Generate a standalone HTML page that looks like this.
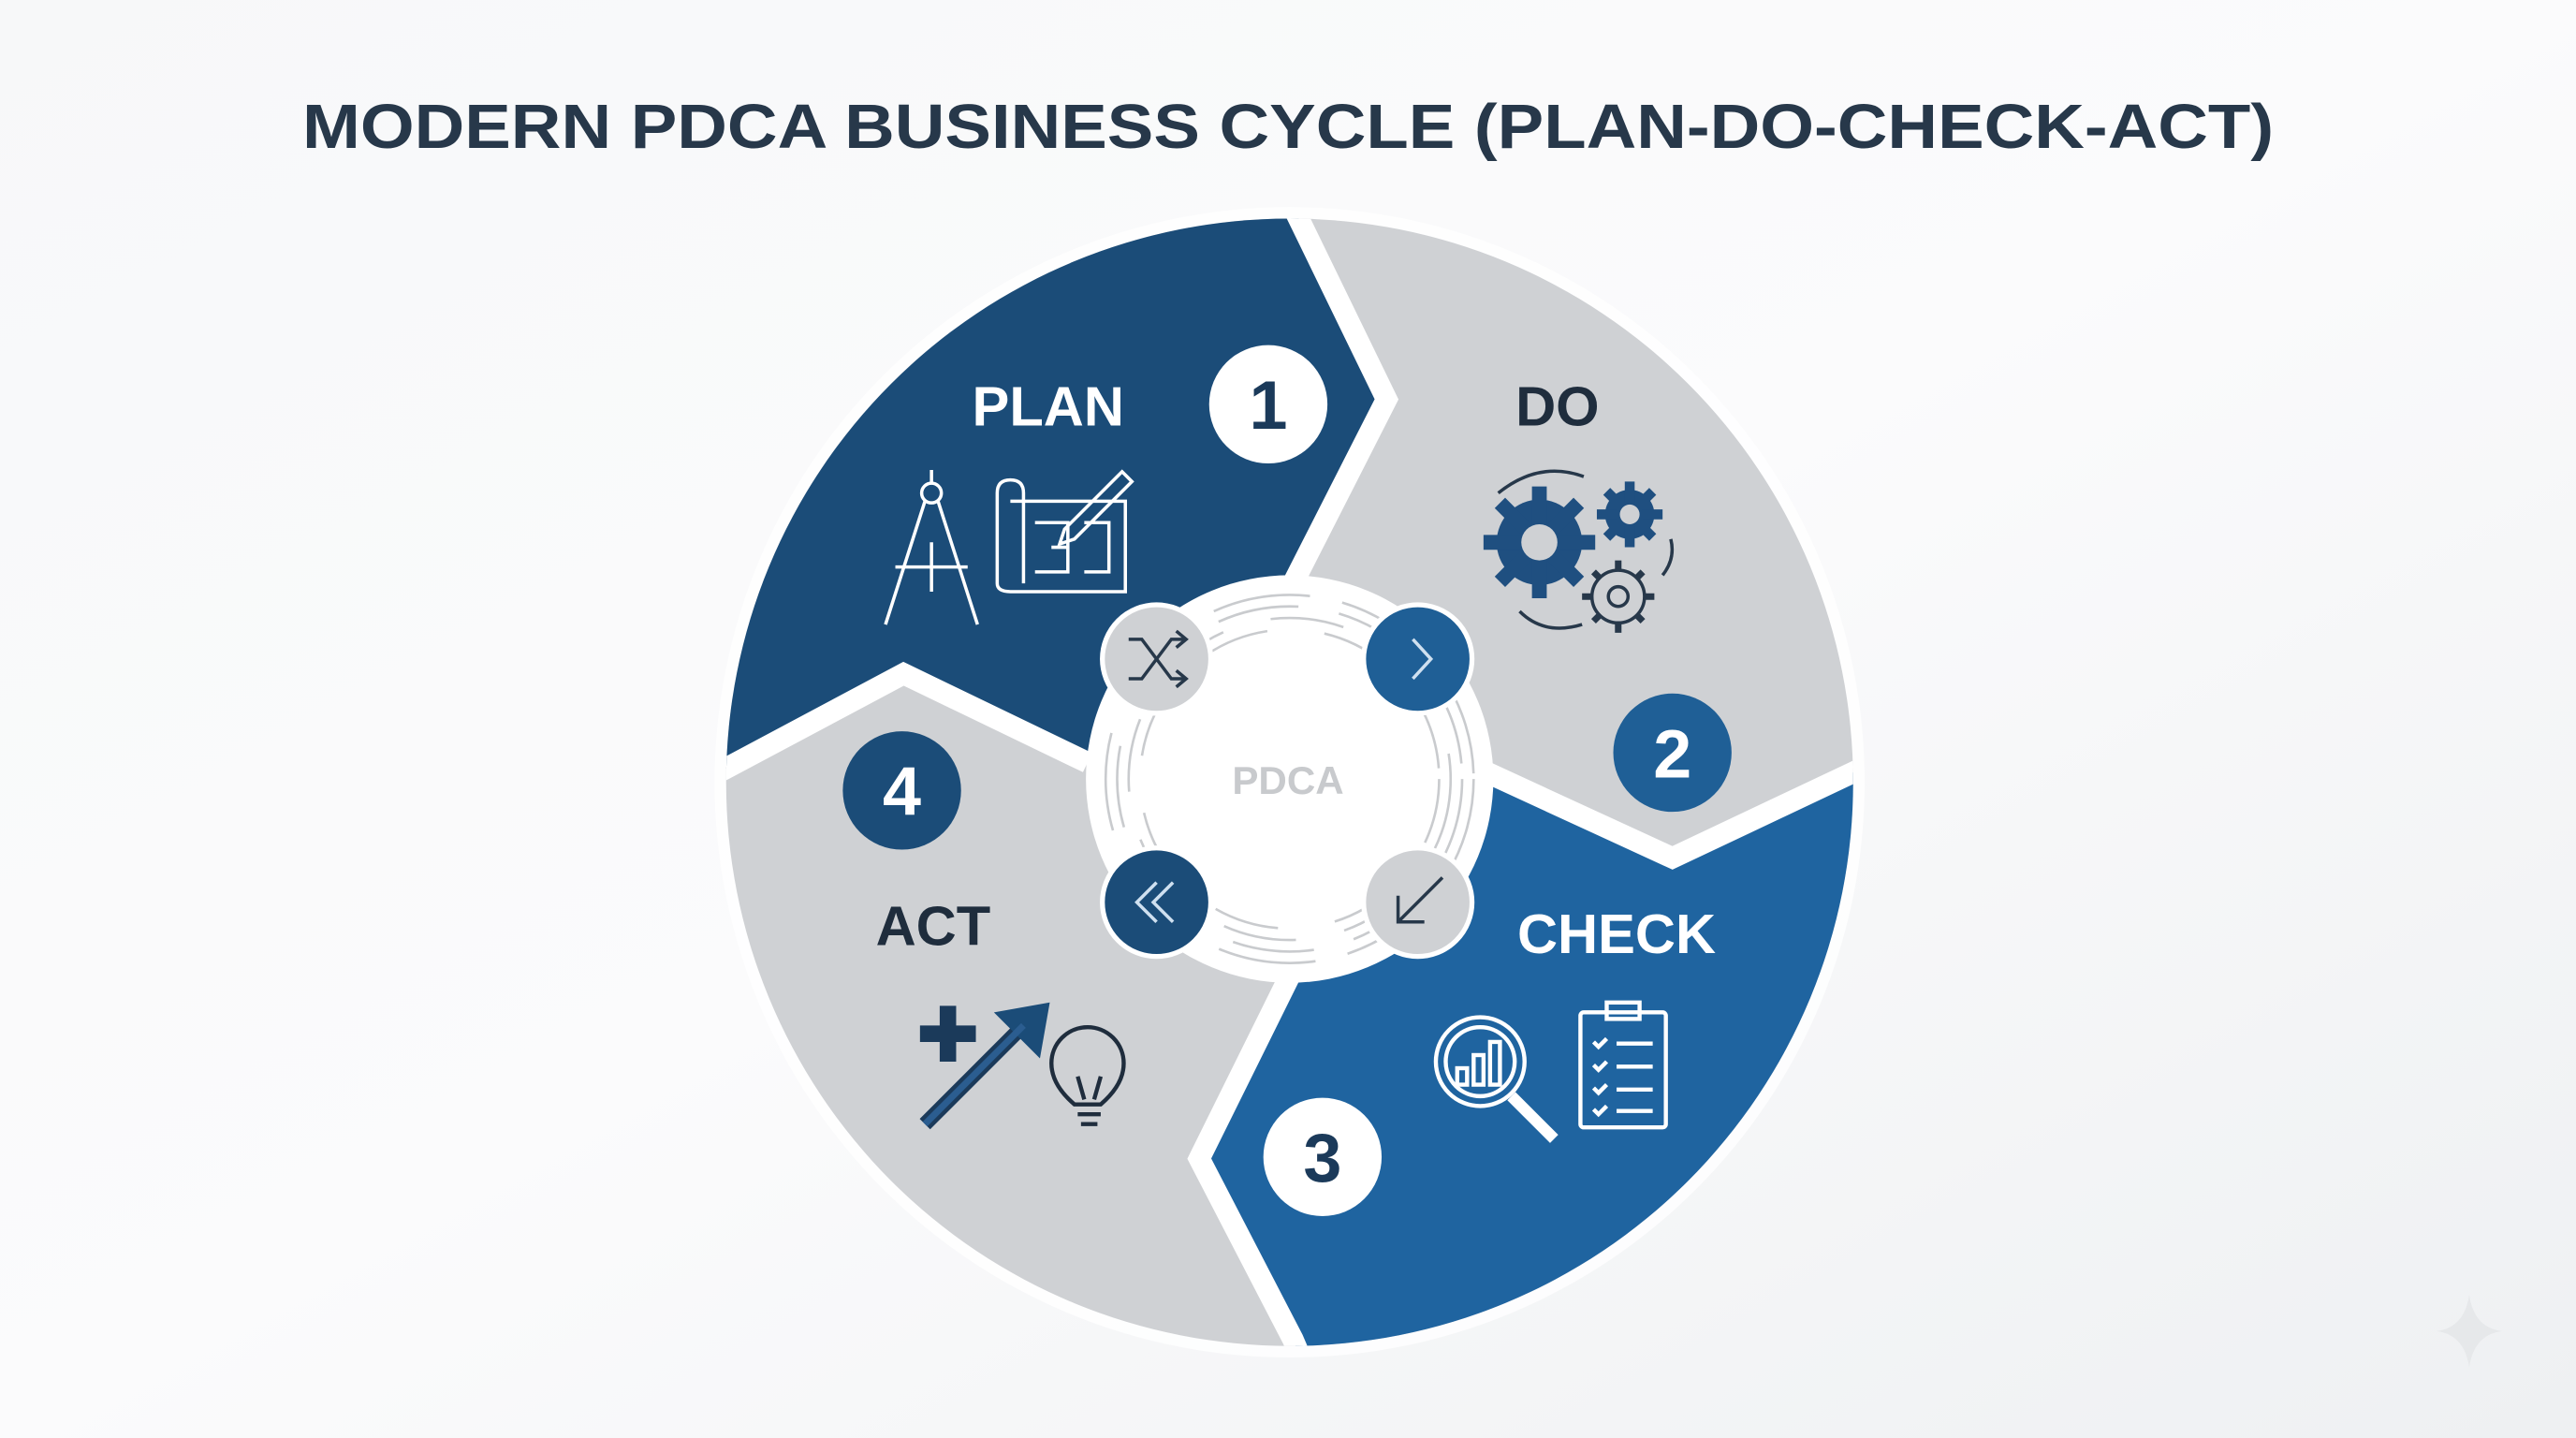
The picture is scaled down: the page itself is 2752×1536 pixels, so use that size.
<!DOCTYPE html>
<html><head><meta charset="utf-8"><style>
html,body{margin:0;padding:0;width:2752px;height:1536px;overflow:hidden;background:#f4f5f7}
svg{display:block}
</style></head><body>
<svg width="2752" height="1536" viewBox="0 0 1568 875" preserveAspectRatio="none" xmlns="http://www.w3.org/2000/svg">
<defs>
<linearGradient id="bg" x1="0" y1="0" x2="1" y2="1">
<stop offset="0" stop-color="#f7f8f9"/><stop offset="0.5" stop-color="#fbfbfc"/><stop offset="1" stop-color="#eef0f2"/>
</linearGradient>
<clipPath id="cc"><circle cx="785" cy="476" r="343"/></clipPath>
</defs>
<rect width="1568" height="875" fill="url(#bg)"/>
<text x="784" y="90" text-anchor="middle" font-family="Liberation Sans, sans-serif" font-weight="bold" font-size="38" fill="#27384a" textLength="1200" lengthAdjust="spacingAndGlyphs">MODERN PDCA BUSINESS CYCLE (PLAN-DO-CHECK-ACT)</text>

<circle cx="785" cy="476" r="350" fill="#ffffff" opacity="0.8"/>
<g clip-path="url(#cc)">
<rect x="400" y="100" width="800" height="760" fill="#cfd1d4"/>
<polygon points="400,490 550,410 662,464 785,478 787,355 844,243 790,132 774,100 400,100" fill="#1b4c78"/>
<polygon points="1160,455 1128,470 1018,522 905,470 785,478 785,594 730,705 787,815 800,850 1160,850" fill="#1f64a0"/>
<g fill="none" stroke="#ffffff" stroke-width="13" stroke-linejoin="miter">
<polyline points="774,100 790,132 844,243 787,355"/>
<polyline points="905,470 1018,522 1128,470 1170,450"/>
<polyline points="785,594 730,705 787,815 802,850"/>
<polyline points="400,490 441,468 550,410 662,464"/>
</g>
</g>

<circle cx="785" cy="474" r="124" fill="#ffffff"/>
<g fill="none" stroke="#c9cbce" stroke-width="1.5">
<circle cx="785" cy="474" r="112" stroke-dasharray="60 20"/>
<circle cx="785" cy="474" r="105" stroke-dasharray="50 25"/>
<circle cx="785" cy="474" r="98" stroke-dasharray="45 30"/>
<circle cx="785" cy="474" r="91" stroke-dasharray="40 35"/>
</g>
<circle cx="785" cy="474" r="84" fill="#ffffff"/>
<text x="784" y="483" text-anchor="middle" font-family="Liberation Sans, sans-serif" font-weight="bold" font-size="24" fill="#c8cacd">PDCA</text>

<circle cx="704" cy="401" r="33" fill="#cfd1d4" stroke="#fff" stroke-width="3"/>
<g fill="none" stroke="#27384a" stroke-width="2">
<path d="M687,389 h8 l18,24 h8 M687,413 h8 l18,-24 h8"/>
<path d="M716,384 l6,5 -6,5 M716,408 l6,5 -6,5"/>
</g>
<circle cx="863" cy="401" r="33" fill="#1f5f96" stroke="#fff" stroke-width="3"/>
<path d="M860,389 l11,12 -11,12" fill="none" stroke="#cfe0f0" stroke-width="2"/>
<circle cx="704" cy="549" r="33" fill="#1b4c78" stroke="#fff" stroke-width="3"/>
<path d="M704,537 l-12,12 12,12 M714,537 l-12,12 12,12" fill="none" stroke="#cfe0f0" stroke-width="2"/>
<circle cx="863" cy="549" r="33" fill="#cfd1d4" stroke="#fff" stroke-width="3"/>
<path d="M878,534 l-27,27 M851,545 v16 h16" fill="none" stroke="#27384a" stroke-width="2"/>

<g font-family="Liberation Sans, sans-serif" font-weight="bold" font-size="42" text-anchor="middle">
<circle cx="772" cy="246" r="36" fill="#ffffff"/><text x="772" y="261" fill="#1b3a5a">1</text>
<circle cx="1018" cy="458" r="36" fill="#1f5f96"/><text x="1018" y="473" fill="#ffffff">2</text>
<circle cx="805" cy="704" r="36" fill="#ffffff"/><text x="805" y="719" fill="#1b3a5a">3</text>
<circle cx="549" cy="481" r="36" fill="#1b4c78"/><text x="549" y="496" fill="#ffffff">4</text>
</g>

<g font-family="Liberation Sans, sans-serif" font-weight="bold" font-size="34" text-anchor="middle">
<text x="638" y="259" fill="#ffffff">PLAN</text>
<text x="948" y="259" fill="#1f2d3d">DO</text>
<text x="984" y="580" fill="#ffffff">CHECK</text>
<text x="568" y="575" fill="#1f2d3d">ACT</text>
</g>

<g fill="none" stroke="#ffffff" stroke-width="2">
<circle cx="567" cy="300" r="6"/><path d="M567,286 v8 M563,305 l-24,75 M571,305 l24,75 M545,345 h44 M567,330 v30"/>
<path d="M607,300 v55 q0,5 8,5 h70 v-55 h-70 M607,300 q0,-8 8,-8 q8,0 8,8 v55"/>
<path d="M630,318 h20 v30 h-20 M640,333 h10 M660,318 h15 v30 h-15"/>
<path d="M648,322 l35,-35 l6,6 -35,35 -9,3 z"/>
</g>
<g>
<circle cx="937" cy="330" r="26" fill="#1f4f80"/>
<g stroke="#1f4f80" stroke-width="9">
<path d="M937,296 v68 M903,330 h68 M913,306 l48,48 M961,306 l-48,48"/>
</g>
<circle cx="937" cy="330" r="11" fill="#cfd1d4"/>
<circle cx="992" cy="313" r="15" fill="#1f4f80"/>
<g stroke="#1f4f80" stroke-width="6"><path d="M992,293 v40 M972,313 h40 M978,299 l28,28 M1006,299 l-28,28"/></g>
<circle cx="992" cy="313" r="6" fill="#cfd1d4"/>
<g stroke="#27384a" stroke-width="4"><path d="M985,341 v44 M963,363 h44 M970,348 l30,30 M1000,348 l-30,30"/></g>
<circle cx="985" cy="363" r="16" fill="#cfd1d4" stroke="#27384a" stroke-width="2"/>
<circle cx="985" cy="363" r="6" fill="none" stroke="#27384a" stroke-width="2"/>
<path d="M912,300 q25,-20 52,-10 M925,372 q15,15 38,8 M1012,350 q8,-10 5,-22" fill="none" stroke="#27384a" stroke-width="2"/>
</g>
<g fill="none" stroke="#ffffff" stroke-width="2.5">
<circle cx="901" cy="646" r="27"/><circle cx="901" cy="646" r="21"/>
<path d="M920,667 l26,26" stroke-width="7"/>
<rect x="887" y="650" width="6" height="10"/><rect x="897" y="642" width="6" height="18"/><rect x="907" y="634" width="6" height="26"/>
<rect x="962" y="616" width="52" height="70" rx="2"/><rect x="978" y="610" width="20" height="10"/>
<path d="M970,634 l3,3 5,-5 M984,635 h22 M970,648 l3,3 5,-5 M984,649 h22 M970,662 l3,3 5,-5 M984,663 h22 M970,675 l3,3 5,-5 M984,676 h22"/>
</g>
<g>
<path d="M572,612 h10 v12 h12 v10 h-12 v12 h-10 v-12 h-12 v-10 h12 z" fill="#1b3a5a"/>
<path d="M563,684 l60,-60" stroke="#1b3a5a" stroke-width="9"/>
<path d="M605,616 l34,-6 -6,34 z" fill="#1b4c78"/>
<path d="M563,684 l60,-60" stroke="#2b5d90" stroke-width="4"/>
<g fill="none" stroke="#1f2d3d" stroke-width="2.5">
<path d="M654,672 q-14,-12 -14,-25 a22,22 0 1 1 44,0 q0,13 -14,25 z"/>
<path d="M656,678 h14 M658,684 h10 M656,655 l4,14 M670,655 l-4,14"/>
</g>
</g>
<path d="M1503,788 q3,20 20,22 q-17,2 -20,22 q-3,-20 -20,-22 q17,-2 20,-22z" fill="#e6e8ea"/>
</svg>
</body></html>
